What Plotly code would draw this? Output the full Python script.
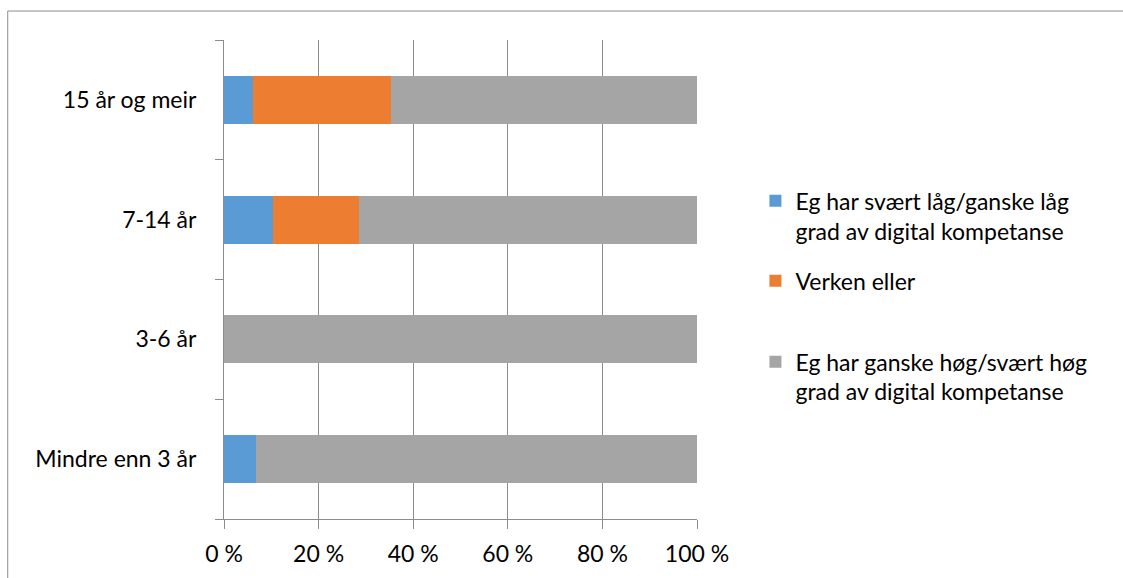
import plotly.graph_objects as go

# Survey shares by length of experience (percent of respondents)
categories = ["Mindre enn 3 år", "3-6 år", "7-14 år", "15 år og meir"]
series_names = [
    "Eg har svært låg/ganske låg<br>grad av digital kompetanse",
    "Verken eller",
    "Eg har ganske høg/svært høg<br>grad av digital kompetanse",
]
low_values = [6.7, 0.0, 10.3, 6.1]
neutral_values = [0.0, 0.0, 18.2, 29.3]
high_values = [93.3, 100.0, 71.5, 64.6]
x_tickvals = [0, 20, 40, 60, 80, 100]
x_ticktext = ["0 %", "20 %", "40 %", "60 %", "80 %", "100 %"]

colors = ["#5B9BD5", "#ED7D31", "#A5A5A5"]
FONT = "Lato"
FS = 23
W, H = 1123, 578
# plot area in pixels
L, R, T, B = 224, 697.5, 39.5, 519


def px_x(px):
    return (px - L) / (R - L)


def px_y(py):
    return (B - py) / (B - T)


fig = go.Figure()
for i, (name, vals) in enumerate(zip(series_names, [low_values, neutral_values, high_values])):
    fig.add_trace(go.Bar(
        y=categories, x=vals, name=name, orientation="h",
        marker=dict(color=colors[i], line=dict(width=0)),
        legend="legend" if i == 0 else f"legend{i + 1}",
        showlegend=True,
    ))

legend_common = dict(
    xanchor="left", yanchor="top", bgcolor="rgba(0,0,0,0)",
    font=dict(family=FONT, size=FS, color="#000000"), valign="top",
    itemclick=False, itemdoubleclick=False,
)
legend_tops = [179, 259, 340]
legend_left = 756
fig.update_layout(
    width=W, height=H,
    margin=dict(l=L, r=W - R, t=T, b=H - B, pad=0),
    barmode="stack", bargap=0.6,
    showlegend=True,
    plot_bgcolor="white", paper_bgcolor="white",
    font=dict(family=FONT, size=FS, color="#000000"),
    legend=dict(x=px_x(legend_left), y=px_y(legend_tops[0]), **legend_common),
    legend2=dict(x=px_x(legend_left), y=px_y(legend_tops[1]), **legend_common),
    legend3=dict(x=px_x(legend_left), y=px_y(legend_tops[2]), **legend_common),
    xaxis=dict(
        range=[0, 100], tickvals=x_tickvals, ticktext=x_ticktext,
        showgrid=True, gridcolor="#8C8C8C", gridwidth=1,
        showline=True, linecolor="#8C8C8C", linewidth=1,
        ticks="outside", ticklen=9, tickcolor="#8C8C8C", tickwidth=1,
        zeroline=False, ticklabelstandoff=5,
        tickfont=dict(family=FONT, size=FS, color="#000000"),
    ),
    yaxis=dict(
        categoryorder="array", categoryarray=categories,
        showgrid=False, showline=True, linecolor="#8C8C8C", linewidth=1,
        ticks="outside", ticklen=8, tickcolor="#8C8C8C", tickwidth=1,
        tickson="boundaries", zeroline=False, ticklabelstandoff=22,
        tickfont=dict(family=FONT, size=FS, color="#000000"),
    ),
    shapes=[dict(
        type="rect", xref="paper", yref="paper",
        x0=px_x(7.5), x1=px_x(1130), y0=px_y(600), y1=px_y(10.5),
        line=dict(color="#8C8C8C", width=1), fillcolor="rgba(0,0,0,0)", layer="below",
    )],
)

fig.write_html("out.html")
